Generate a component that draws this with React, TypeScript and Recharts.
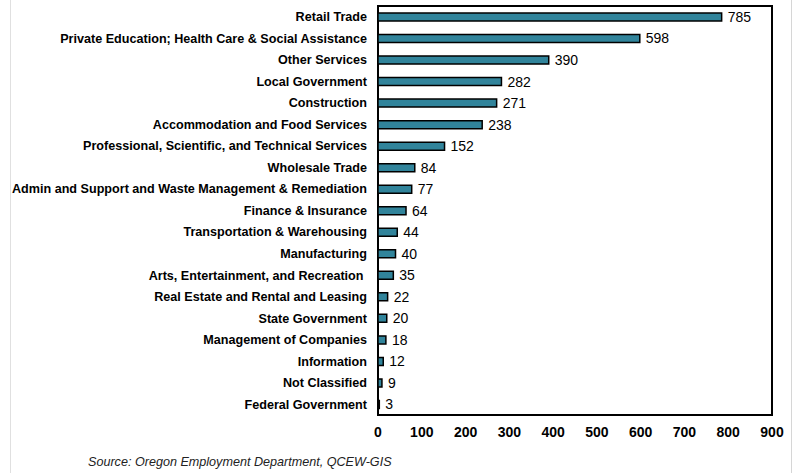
import { BarChart, Bar, XAxis, YAxis, LabelList, ReferenceArea } from "recharts";

const industries = [
  "Retail Trade",
  "Private Education; Health Care & Social Assistance",
  "Other Services",
  "Local Government",
  "Construction",
  "Accommodation and Food Services",
  "Professional, Scientific, and Technical Services",
  "Wholesale Trade",
  "Admin and Support and Waste Management & Remediation",
  "Finance & Insurance",
  "Transportation & Warehousing",
  "Manufacturing",
  "Arts, Entertainment, and Recreation\u00a0",
  "Real Estate and Rental and Leasing",
  "State Government",
  "Management of Companies",
  "Information",
  "Not Classified",
  "Federal Government",
];

const counts = [785, 598, 390, 282, 271, 238, 152, 84, 77, 64, 44, 40, 35, 22, 20, 18, 12, 9, 3];

const xTicks = [0, 100, 200, 300, 400, 500, 600, 700, 800, 900];

const data = industries.map((name, i) => ({ name, value: counts[i] }));

const font = "Arial, 'Liberation Sans', sans-serif";

// single-line category label (the default tick wraps long names)
function IndustryTick(props: any) {
  const { x, y, payload } = props;
  return (
    <text
      x={x}
      y={y}
      dy="0.355em"
      textAnchor="end"
      fontSize={12.6}
      fontWeight="bold"
      fill="#000"
      fontFamily={font}
    >
      {payload.value}
    </text>
  );
}

export default function App() {
  return (
    <div
      style={{
        position: "absolute",
        left: 0,
        top: 0,
        width: 799,
        height: 473,
        background: "#fff",
        fontFamily: font,
        overflow: "hidden",
      }}
    >
      <div
        style={{
          position: "absolute",
          left: 10,
          top: -2,
          width: 780,
          height: 480,
          borderLeft: "1px solid #e0e0e0",
          borderRight: "1px solid #d6d6d6",
        }}
      />
      <BarChart
        layout="vertical"
        width={799}
        height={473}
        data={data}
        margin={{ top: 6, right: 27, left: 10, bottom: 28 }}
        barCategoryGap={0}
      >
        <XAxis
          type="number"
          domain={[0, 900]}
          ticks={xTicks}
          interval={0}
          axisLine={false}
          tickLine={false}
          tickSize={0}
          tickMargin={12}
          height={30}
          tick={{ fontSize: 14, fontWeight: "bold", fill: "#000", fontFamily: font }}
        />
        <YAxis
          type="category"
          dataKey="name"
          width={368}
          interval={0}
          axisLine={false}
          tickLine={false}
          tickSize={0}
          tickMargin={11}
          tick={<IndustryTick />}
        />
        <ReferenceArea x1={0} x2={900} fill="none" stroke="#000" strokeWidth={2} />
        <Bar
          dataKey="value"
          fill="#31849B"
          stroke="#000"
          strokeWidth={1.5}
          barSize={8}
          isAnimationActive={false}
        >
          <LabelList
            dataKey="value"
            position="right"
            offset={6}
            style={{ fontSize: 14, fill: "#000", fontFamily: font }}
          />
        </Bar>
      </BarChart>
      <div
        style={{
          position: "absolute",
          left: 88,
          top: 455,
          fontSize: 12.6,
          fontStyle: "italic",
          color: "#222",
          whiteSpace: "nowrap",
        }}
      >
        Source: Oregon Employment Department, QCEW-GIS
      </div>
    </div>
  );
}
